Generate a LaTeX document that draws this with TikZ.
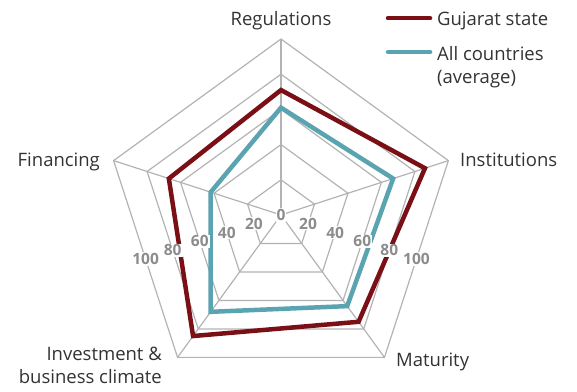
\documentclass[tikz,border=0pt]{standalone}
\usepackage{fontspec}
\setmainfont{Open Sans}
\definecolor{gujred}{HTML}{7A1015}
\definecolor{avgteal}{HTML}{5AA3B1}
\definecolor{gridgrey}{HTML}{B3B3B3}
\definecolor{txtgrey}{HTML}{333333}
\definecolor{numgrey}{HTML}{8C8C8C}
\begin{document}
\begin{tikzpicture}[x=1.76pt,y=1.76pt,
  grid/.style={draw=gridgrey,line width=1.2pt},
  gujline/.style={draw=gujred,line width=4.5pt,line join=miter},
  avgline/.style={draw=avgteal,line width=4.5pt,line join=miter},
  axislabel/.style={text=txtgrey,inner sep=0pt,font=\fontsize{18.5}{23}\selectfont},
  numlabel/.style={text=numgrey,fill=white,inner sep=1pt,font=\fontsize{15.5}{16}\selectfont\bfseries}]
\useasboundingbox (-159.66,-100) rectangle (168.18,122.16);

% grid rings and spokes
\coordinate (c) at (0,0);
\foreach \r in {20,40,60,80,100}
  \draw[grid] (90:\r) -- (18:\r) -- (-54:\r) -- (-126:\r) -- (162:\r) -- cycle;
\foreach \a in {90,18,-54,-126,162}
  \draw[grid] (c) -- (\a:100);

% data
\coordinate (g1) at (90:71);
\coordinate (g2) at (18:86);
\coordinate (g3) at (-54:75);
\coordinate (g4) at (-126:85);
\coordinate (g5) at (162:67);
\coordinate (a1) at (90:61);
\coordinate (a2) at (18:67);
\coordinate (a3) at (-54:64);
\coordinate (a4) at (-126:68);
\coordinate (a5) at (162:42);
\draw[avgline] (a1) -- (a2) -- (a3) -- (a4) -- (a5) -- cycle;
\draw[gujline] (g1) -- (g2) -- (g3) -- (g4) -- (g5) -- cycle;

% scale
\node [numlabel] (n0) at (c) {0};
\foreach \r in {20,40,60,80,100} {
  \node [numlabel] (nr\r) at (-18:{\r*0.809}) {\r};
  \node [numlabel] (nl\r) at (198:{\r*0.809}) {\r};
}

% axis labels
\node [axislabel,anchor=base] (reg) at (0,107.4) {Regulations};
\node [axislabel,anchor=base west] (inst) at (101.7,27.4) {Institutions};
\node [axislabel,anchor=base west] (mat) at (65.3,-85.8) {Maturity};
\node [axislabel,anchor=base east,align=right] (inv) at (-67.6,-95.6) {Investment \&\\business climate};
\node [axislabel,anchor=base east] (fin) at (-102.8,27.8) {Financing};

% legend
\node [axislabel,anchor=base west] (leg1) at (88.6,107.4) {Gujarat state};
\node [axislabel,anchor=base west,align=left] (leg2) at (88.6,75.0) {All countries\\(average)};
\coordinate (lg1a) at (60.8,111.8);
\coordinate (lg1b) at (84.7,111.8);
\coordinate (lg2a) at (60.8,92.6);
\coordinate (lg2b) at (84.7,92.6);
\draw[gujline,line cap=round] (lg1a) -- (lg1b);
\draw[avgline,line cap=round] (lg2a) -- (lg2b);
\end{tikzpicture}
\end{document}
